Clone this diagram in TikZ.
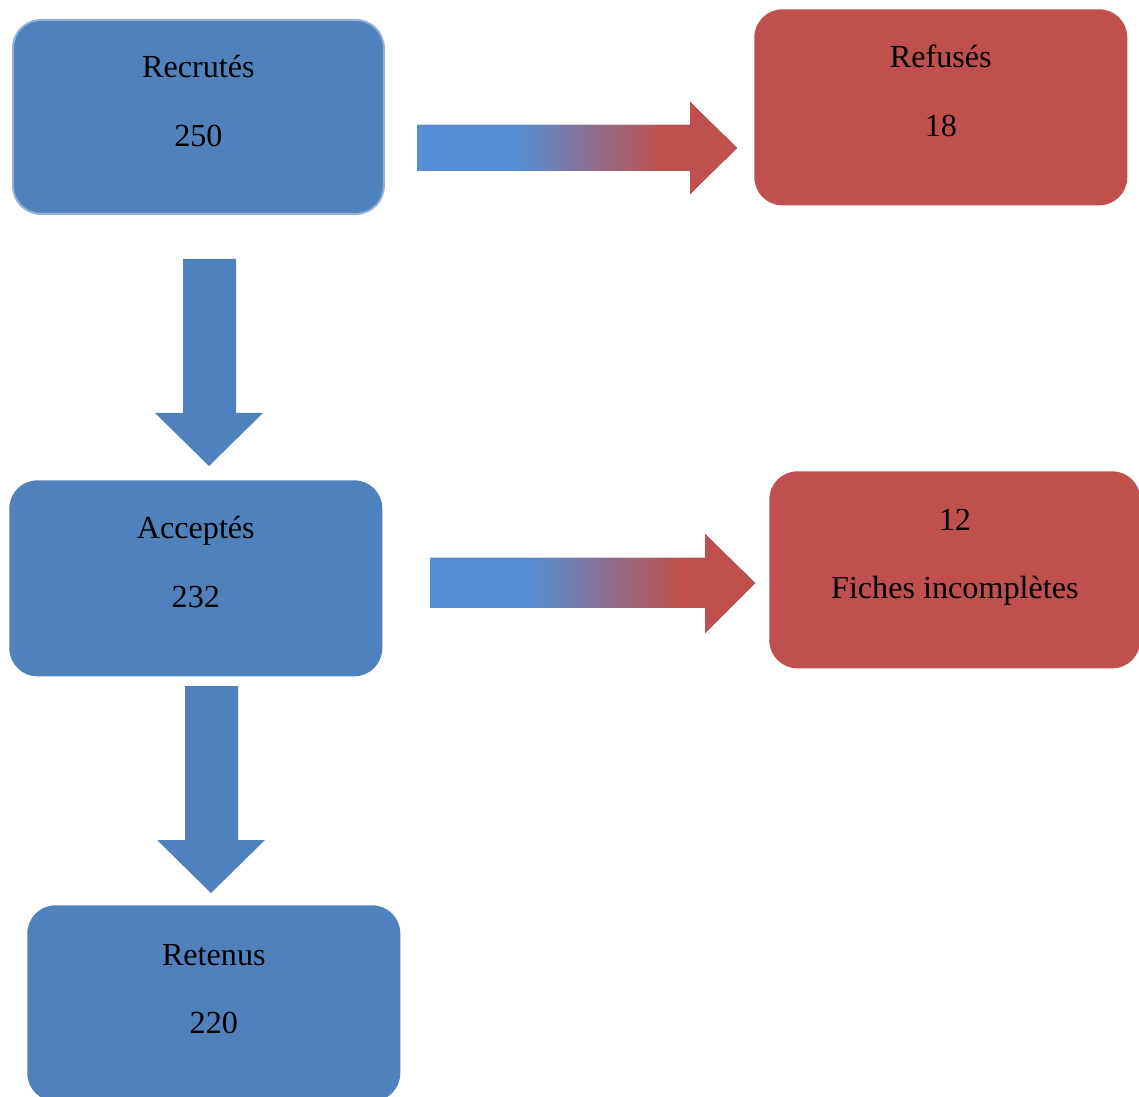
\documentclass[tikz,border=0pt]{standalone}
\usepackage{fontspec}
\setmainfont{Liberation Serif}
\definecolor{boxblue}{HTML}{4F81BD}
\definecolor{boxred}{HTML}{C0504D}
\definecolor{arrblue}{HTML}{558ED5}
\definecolor{edgeblue}{HTML}{95B3D7}
\pgfdeclarehorizontalshading{bluetored}{100bp}{color(0bp)=(arrblue); color(40.5bp)=(arrblue); color(63.5bp)=(boxred); color(100bp)=(boxred)}
\begin{document}
\begin{tikzpicture}[x=0.02cm,y=-0.02cm,
  boxbase/.style={rectangle, rounded corners=0.56cm, inner sep=0pt, anchor=north west},
  bluebox/.style={boxbase, fill=boxblue},
  redbox/.style={boxbase, fill=boxred},
  lbl/.style={inner sep=0pt, anchor=base, font=\fontsize{18.3}{22}\selectfont, text=black},
  varrow/.style={fill=boxblue},
  harrow/.style={shading=bluetored}]
\clip (0,0) rectangle (1139,1097);
% boxes
\node[bluebox, draw=edgeblue, line width=1.1pt, minimum width=7.42cm, minimum height=3.88cm] (rec) at (12,19) {};
\node[redbox, minimum width=7.46cm, minimum height=3.92cm] (ref) at (754,9) {};
\node[bluebox, minimum width=7.46cm, minimum height=3.92cm] (acc) at (9,480) {};
\node[redbox, minimum width=7.42cm, minimum height=3.94cm] (fic) at (769,471) {};
\node[bluebox, minimum width=7.46cm, minimum height=3.92cm] (ret) at (27,905) {};
% labels
\path (rec.north) ++(0,59) node[lbl] (recA) {Recrutés} ++(0,69) node[lbl] (recB) {250};
\path (ref.north) ++(0,59) node[lbl] (refA) {Refusés} ++(0,69) node[lbl] (refB) {18};
\path (acc.north) ++(0,59) node[lbl] (accA) {Acceptés} ++(0,69) node[lbl] (accB) {232};
\path (fic.north) ++(0,60) node[lbl] (ficA) {12} ++(0,68) node[lbl] (ficB) {Fiches incomplètes};
\path (ret.north) ++(0,60) node[lbl] (retA) {Retenus} ++(0,68) node[lbl] (retB) {220};
% horizontal arrows
\fill[harrow] (417,125) -- (690,125) -- (690,102) -- (737,148) -- (690,194) -- (690,171) -- (417,171) -- cycle;
\fill[harrow] (430,558) -- (705,558) -- (705,534) -- (755,583) -- (705,633) -- (705,608) -- (430,608) -- cycle;
% vertical arrows
\fill[varrow] (183,259) -- (236,259) -- (236,413) -- (263,413) -- (209,466) -- (155,413) -- (183,413) -- cycle;
\fill[varrow] (185,686) -- (238,686) -- (238,840) -- (265,840) -- (211,893) -- (157,840) -- (185,840) -- cycle;
\end{tikzpicture}
\end{document}
